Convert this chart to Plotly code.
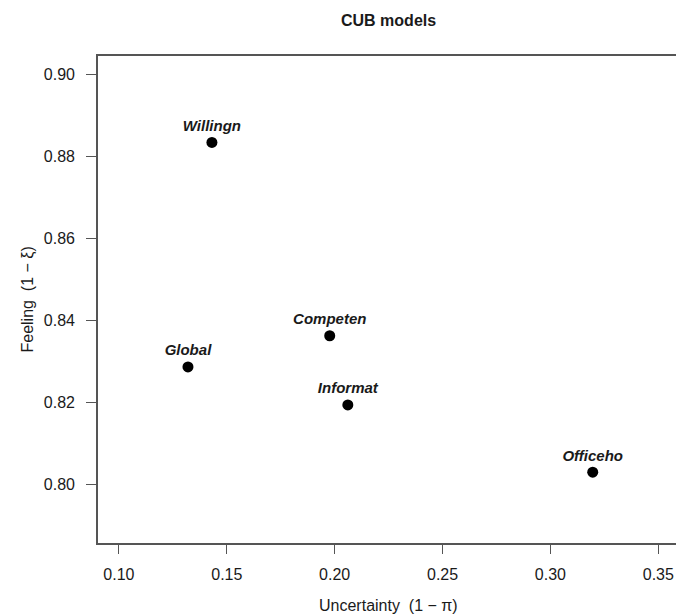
import plotly.graph_objects as go

# CUB model estimates per item: uncertainty (1 - pi) and feeling (1 - xi)
items = ["Willingn", "Global", "Competen", "Informat", "Officeho"]
uncertainty = [0.1431, 0.1320, 0.1977, 0.2061, 0.3196]
feeling = [0.8834, 0.8286, 0.8362, 0.8193, 0.8029]

x_ticks = [0.10, 0.15, 0.20, 0.25, 0.30, 0.35]
y_ticks = [0.80, 0.82, 0.84, 0.86, 0.88, 0.90]

FONT = "Liberation Sans, Arial, Helvetica, sans-serif"
INK = "#1a1a1a"
AXIS = "#555555"

fig = go.Figure()
fig.add_trace(go.Scatter(
    x=uncertainty, y=feeling,
    mode="markers+text",
    text=[f"<b><i>{t}</i></b>" for t in items],
    textposition="top center",
    textfont=dict(family=FONT, size=15, color=INK),
    marker=dict(size=11, color="black"),
    cliponaxis=False,
    hoverinfo="skip",
))

fig.update_layout(
    width=676, height=615,
    margin=dict(l=98, r=0, t=56, b=72),
    paper_bgcolor="white", plot_bgcolor="white",
    showlegend=False,
    font=dict(family=FONT, size=15, color=INK),
    xaxis=dict(
        range=[0.0903, 0.3582],
        tickvals=x_ticks, tickformat=".2f",
        ticks="outside", ticklen=9, tickwidth=1.3, tickcolor=AXIS,
        showline=True, linecolor=AXIS, linewidth=1.6, mirror=True,
        showgrid=False, zeroline=False,
        ticklabelstandoff=7,
        tickfont=dict(family=FONT, size=16, color=INK),
    ),
    yaxis=dict(
        range=[0.7856, 0.9045],
        tickvals=y_ticks, tickformat=".2f",
        ticks="outside", ticklen=10, tickwidth=1.3, tickcolor=AXIS,
        showline=True, linecolor=AXIS, linewidth=1.6, mirror=False,
        showgrid=False, zeroline=False,
        ticklabelstandoff=8,
        tickfont=dict(family=FONT, size=16, color=INK),
    ),
    annotations=[
        dict(text="<b>CUB models</b>", xref="paper", yref="paper",
             x=0.502, y=1, yshift=36, showarrow=False,
             xanchor="center", yanchor="middle",
             font=dict(family=FONT, size=16, color=INK)),
        dict(text="Uncertainty\u00a0\u00a0(1 \u2212 \u03c0)", xref="paper", yref="paper",
             x=0.502, y=0, yshift=-62, showarrow=False,
             xanchor="center", yanchor="middle",
             font=dict(family=FONT, size=16, color=INK)),
        dict(text="Feeling\u00a0\u00a0(1 \u2212 \u03be)", xref="paper", yref="paper",
             x=0, xshift=-71, y=0.5, showarrow=False, textangle=-90,
             xanchor="center", yanchor="middle",
             font=dict(family=FONT, size=16, color=INK)),
    ],
)

fig.write_html("out.html")
